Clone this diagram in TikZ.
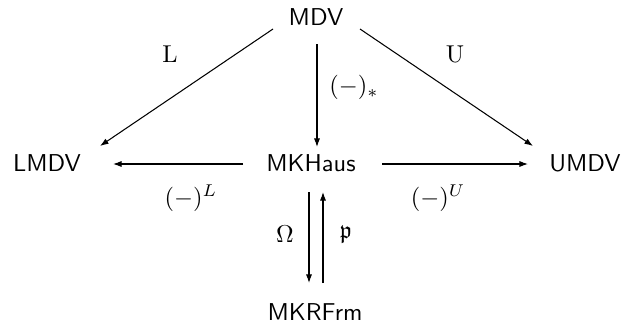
\documentclass[tikz,border=0pt]{standalone}
\usepackage{amssymb}
\usetikzlibrary{arrows.meta,calc}
\begin{document}
\begin{tikzpicture}[x=0.41pt,y=-0.41pt,
  obj/.style={font=\sffamily, inner sep=0pt, anchor=base},
  lab/.style={inner sep=0pt, anchor=base},
  arr/.style={-{Latex[length=3.5pt,width=2.5pt]}, line width=0.43pt}]
\useasboundingbox (0,0) rectangle (621,327);
% objects
\node[obj] (mdv)  at (316,26)  {MDV};
\node[obj] (lmdv) at (47,171)  {LMDV};
\node[obj] (mkh)  at (311,171) {MKHaus};
\node[obj] (umdv) at (585,171) {UMDV};
\node[obj] (mkr)  at (315,320) {MKRFrm};
% labels
\node[lab] (lL)  at (170,62)  {$\mathrm{L}$};
\node[lab] (lU)  at (455,62)  {$\mathrm{U}$};
\node[lab] (lst) at (354,93.5) {$(-)_*$};
\node[lab] (lsL) at (191,205) {$(-)^L$};
\node[lab] (lsU) at (438,205) {$(-)^U$};
\node[lab] (lom) at (285,242) {$\Omega$};
\node[lab] (lp)  at (346,238) {$\mathfrak{p}$};
% arrows
\draw[arr] ($(mdv.base)+(-43,3)$) -- ($(lmdv.base)+(53,-25)$);
\draw[arr] ($(mdv.base)+(1,18)$) -- ($(mkh.base)+(6,-24)$);
\draw[arr] ($(mdv.base)+(44,3)$) -- ($(umdv.base)+(-52,-25)$);
\draw[arr] ($(mkh.base)+(-68,-7)$) -- ($(lmdv.base)+(66,-7)$);
\draw[arr] ($(mkh.base)+(71,-7)$) -- ($(umdv.base)+(-57,-7)$);
\draw[arr] ($(mkh.base)+(-2,21)$) -- ($(mkr.base)+(-6,-37)$);
\draw[arr] ($(mkr.base)+(8,-37)$) -- ($(mkh.base)+(12,21)$);
\end{tikzpicture}
\end{document}
